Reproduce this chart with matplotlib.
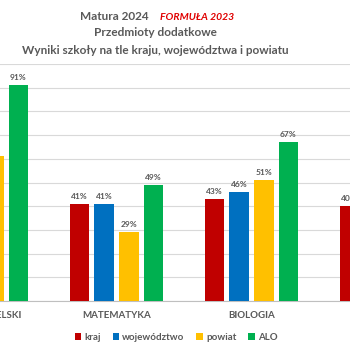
import matplotlib
matplotlib.use("Agg")
import matplotlib.pyplot as plt
import matplotlib.transforms as mtransforms
import numpy as np

categories = ["JĘZYK ANGIELSKI", "MATEMATYKA", "BIOLOGIA", "CHEMIA"]
series_names = ["kraj", "województwo", "powiat", "ALO"]
kraj = [70, 41, 43, 40]
wojewodztwo = [68, 41, 46, 42]
powiat = [61, 29, 51, 45]
alo = [91, 49, 67, 55]
colors = ["#C00000", "#0070C0", "#FFC000", "#00B050"]

plt.rcParams['font.family'] = ['Lato', 'DejaVu Sans']
gray = "#595959"

fig = plt.figure(figsize=(3.5, 3.5), dpi=100)
ax = fig.add_axes([0, 0.14, 1, 0.677])

x = np.arange(len(categories))
step = 0.182
width = 0.145
offsets = [-1.5 * step, -0.5 * step, 0.5 * step, 1.5 * step]
for vals, name, col, off in zip([kraj, wojewodztwo, powiat, alo], series_names, colors, offsets):
    bars = ax.bar(x + off, np.array(vals) / 100, width, color=col, label=name, zorder=3)
    ax.bar_label(bars, labels=[f"{v}%" for v in vals], padding=3, fontsize=6,
                 color=gray, fontweight='bold')

ax.set_xticks(x)
ax.set_xticklabels([])
ax.set_yticks(np.arange(0, 1.01, 0.1))
ax.set_xlim(0.137, 2.730)
ax.set_ylim(0, 1.0)
ax.yaxis.grid(True, color="#D9D9D9", linewidth=0.8, zorder=0)
ax.tick_params(axis='y', left=False, labelleft=False)
ax.tick_params(axis='x', length=0)
for s in ['top', 'left', 'right']:
    ax.spines[s].set_visible(False)
ax.spines['bottom'].set_color("#BFBFBF")
ax.spines['bottom'].set_linewidth(0.8)

trans = mtransforms.blended_transform_factory(ax.transData, ax.transAxes)
for xi, cat in zip(x, categories):
    ax.text(xi, -15 / 237, cat, transform=trans, ha='center', va='center',
            fontsize=7, color=gray, fontweight='bold', clip_on=False)

leg = fig.legend(loc='center', bbox_to_anchor=(176 / 350, 1 - 337 / 350), ncol=4,
                 frameon=False, fontsize=7, handlelength=0.7, handleheight=0.7,
                 handletextpad=0.3, columnspacing=1.2)
for t in leg.get_texts():
    t.set_color(gray)
    t.set_fontweight('bold')

fig.text(80 / 350, 1 - 17 / 350, "Matura 2024", ha='left', va='center', fontsize=8.5,
         fontweight='bold', color=gray)
fig.text(160 / 350, 1 - 17 / 350, "FORMUŁA 2023", ha='left', va='center', fontsize=7.5,
         fontweight='bold', style='italic', color="#E00000")
fig.text(155 / 350, 1 - 33 / 350, "Przedmioty dodatkowe", ha='center', va='center',
         fontsize=8.5, fontweight='bold', color=gray)
fig.text(155 / 350, 1 - 50 / 350, "Wyniki szkoły na tle kraju, województwa i powiatu",
         ha='center', va='center', fontsize=8.5, fontweight='bold', color=gray)

fig.savefig("out.png", dpi=100)
